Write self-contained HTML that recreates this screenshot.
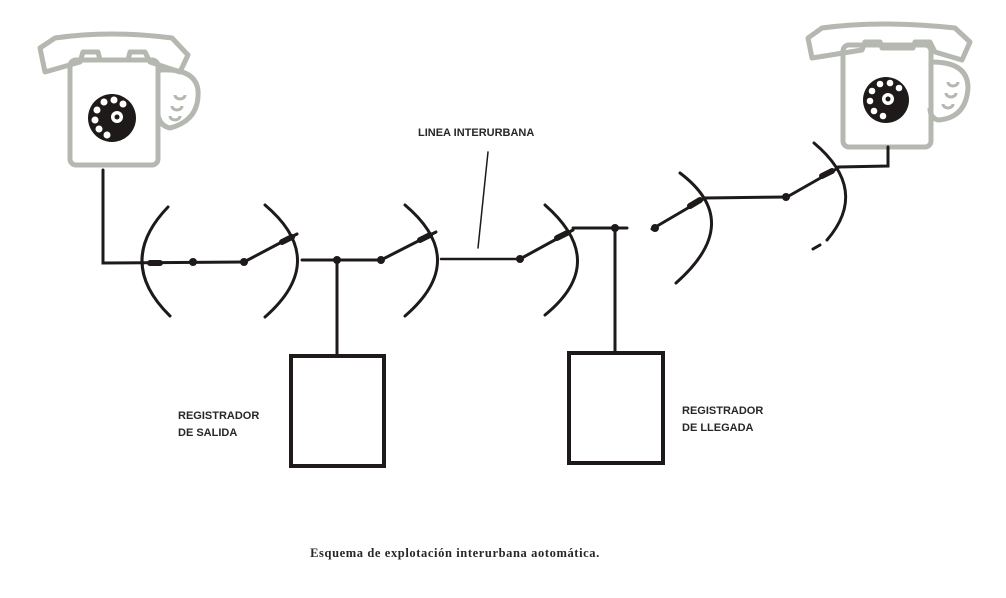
<!DOCTYPE html>
<html><head><meta charset="utf-8"><style>
html,body{margin:0;padding:0;background:#fff;}
svg{display:block}
</style></head><body>
<svg width="1006" height="598" viewBox="0 0 1006 598" xmlns="http://www.w3.org/2000/svg">
<rect width="1006" height="598" fill="#fff"/>
<!-- Left phone -->
<g fill="none" stroke="#b4b8b0" stroke-width="5" stroke-linejoin="round">
  <path d="M40 48 L55 38 Q110 30 172 38 L188 55 L180 72 L150 62 L145 52 L130 52 L128 60 L100 60 L98 52 L83 52 L80 62 L45 72 Z"/>
  <rect x="70" y="60" width="88" height="105" rx="6"/>
  <path d="M160 70 Q195 68 198 90 Q200 120 170 128 Q160 126 158 115"/>
  <path d="M175 95 a5 4 0 1 0 10 0 M172 106 a5 4 0 1 0 10 0 M170 116 a5 4 0 1 0 10 0" stroke-width="3"/>
</g>
<circle cx="112" cy="118" r="24" fill="#1e1a1a"/>
<g fill="#fff">
  <circle cx="104" cy="102" r="3.5"/><circle cx="114" cy="100" r="3.5"/><circle cx="123" cy="104" r="3.5"/>
  <circle cx="97" cy="110" r="3.5"/><circle cx="95" cy="120" r="3.5"/><circle cx="99" cy="129" r="3.5"/>
  <circle cx="107" cy="135" r="3.5"/><circle cx="117" cy="117" r="6"/>
</g>
<circle cx="117" cy="117" r="2.5" fill="#1e1a1a"/>
<!-- Right phone -->
<g fill="none" stroke="#b4b8b0" stroke-width="5" stroke-linejoin="round">
  <path d="M808 38 L822 28 Q880 20 955 28 L970 42 L962 60 L935 52 L930 42 L915 42 L913 48 L882 48 L880 42 L865 42 L862 50 L812 58 Z"/>
  <rect x="843" y="45" width="88" height="102" rx="6"/>
  <path d="M932 62 Q968 62 968 88 Q966 118 938 120 Q930 118 930 108"/>
  <path d="M948 82 a5 4 0 1 0 10 0 M946 93 a5 4 0 1 0 10 0 M943 104 a5 4 0 1 0 10 0" stroke-width="3"/>
</g>
<circle cx="886" cy="100" r="23" fill="#1e1a1a"/>
<g fill="#fff">
  <circle cx="880" cy="84" r="3.3"/><circle cx="890" cy="83" r="3.3"/><circle cx="899" cy="88" r="3.3"/>
  <circle cx="872" cy="91" r="3.3"/><circle cx="870" cy="101" r="3.3"/><circle cx="874" cy="111" r="3.3"/>
  <circle cx="883" cy="116" r="3.3"/><circle cx="888" cy="99" r="6"/>
</g>
<circle cx="888" cy="99" r="2.5" fill="#1e1a1a"/>
<!-- Wires -->
<g fill="none" stroke="#1e1a1a" stroke-width="3" stroke-linecap="round">
  <polyline points="103,170 103,263 244,262"/>
  <line x1="244" y1="262" x2="297" y2="234"/>
  <line x1="302" y1="260" x2="381" y2="260"/>
  <line x1="337" y1="260" x2="337" y2="355"/>
  <line x1="381" y1="260" x2="436" y2="232"/>
  <line x1="441" y1="259" x2="520" y2="259" stroke-width="2.5"/>
  <line x1="520" y1="259" x2="573" y2="230"/>
  <line x1="573" y1="228" x2="627" y2="228"/>
  <line x1="615" y1="228" x2="615" y2="352"/>
  <line x1="652" y1="229" x2="705" y2="198"/>
  <line x1="705" y1="198" x2="787" y2="197"/>
  <line x1="787" y1="197" x2="838" y2="168"/>
  <polyline points="838,167 888,166 888,147"/>
  <line x1="478" y1="248" x2="488" y2="152" stroke-width="1.5"/>
  <!-- arcs -->
  <path d="M168 207 Q115 262 170 316"/>
  <path d="M265 205 Q330 260 265 317"/>
  <path d="M405 205 Q470 260 405 316"/>
  <path d="M545 205 Q610 262 545 315"/>
  <path d="M680 173 Q745 222 676 283"/>
  <path d="M814 143 Q870 190 827 240"/>
  <line x1="813" y1="249" x2="820" y2="245"/>
</g>
<!-- arrow thickenings -->
<g stroke="#1e1a1a" stroke-width="6" stroke-linecap="round">
  <line x1="150" y1="263" x2="160" y2="263"/>
  <line x1="282" y1="242" x2="292" y2="237"/>
  <line x1="420" y1="240" x2="430" y2="235"/>
  <line x1="557" y1="238" x2="567" y2="233"/>
  <line x1="690" y1="206" x2="700" y2="200"/>
  <line x1="822" y1="176" x2="832" y2="171"/>
</g>
<g fill="#1e1a1a">
  <circle cx="193" cy="262" r="4"/><circle cx="244" cy="262" r="4"/>
  <circle cx="337" cy="260" r="4"/><circle cx="381" cy="260" r="4"/>
  <circle cx="520" cy="259" r="4"/><circle cx="615" cy="228" r="4"/>
  <circle cx="655" cy="228" r="4"/><circle cx="786" cy="197" r="4"/>
</g>
<!-- Boxes -->
<rect x="291" y="356" width="93" height="110" fill="none" stroke="#1e1a1a" stroke-width="4"/>
<rect x="569" y="353" width="94" height="110" fill="none" stroke="#1e1a1a" stroke-width="4"/>
<g font-family="Liberation Sans, sans-serif" font-size="11" font-weight="bold" fill="#2a2626">
  <text x="418" y="136">LINEA INTERURBANA</text>
  <text x="178" y="419">REGISTRADOR</text>
  <text x="178" y="436">DE SALIDA</text>
  <text x="682" y="414">REGISTRADOR</text>
  <text x="682" y="431">DE LLEGADA</text>
</g>
<text x="455" y="557" text-anchor="middle" font-family="Liberation Serif, serif" font-size="12.5" font-weight="bold" fill="#2a2626" letter-spacing="0.6">Esquema de explotación interurbana aotomática.</text>
</svg>
</body></html>
